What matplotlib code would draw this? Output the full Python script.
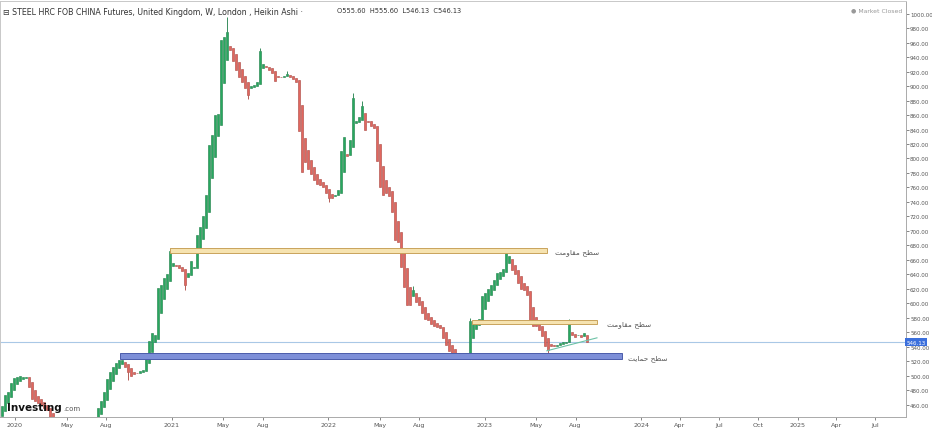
import numpy as np
import pandas as pd
import matplotlib
matplotlib.use('Agg')
import matplotlib.pyplot as plt
import matplotlib.dates as mdates
from matplotlib.patches import Rectangle
import matplotlib.transforms as mtransforms

#%% weekly Heikin Ashi closes (first week 2019-12-02)

ha_close = [458, 473, 478, 490, 497, 498, 499, 498, 498, 485,
            468, 465, 463, 460, 455, 452, 440, 436, 430, 425,
            420, 418, 420, 423, 426, 429, 431, 433, 435, 437,
            439, 442, 455, 465, 478, 495, 505, 512, 518, 522,
            522, 512, 505, 500, 503, 504, 506, 508, 529, 548,
            559, 556, 621, 625, 635, 640, 672, 655, 652, 649,
            645, 625, 642, 658, 650, 694, 706, 720, 749, 818,
            832, 860, 862, 963, 968, 975, 950, 935, 922, 913,
            905, 897, 888, 900, 902, 905, 948, 930, 926, 922,
            918, 907, 912, 913, 914, 917, 912, 910, 905, 838,
            782, 795, 785, 778, 770, 765, 763, 760, 752, 745,
            745, 750, 756, 811, 830, 803, 826, 883, 852, 857,
            873, 840, 851, 845, 842, 796, 760, 750, 752, 748,
            726, 687, 684, 650, 622, 597, 598, 618, 602, 598,
            586, 578, 577, 572, 568, 567, 566, 552, 542, 534,
            530, 527, 525, 524, 527, 531, 576, 576, 577, 578,
            610, 614, 620, 625, 632, 642, 643, 648, 669, 665,
            646, 640, 628, 620, 618, 612, 573, 568, 568, 563,
            555, 541, 536, 541, 541, 543, 545, 546, 547, 575,
            556, 553, 556, 553, 559, 546.13]
first_open = 445

# visible wicks (week index: price)
wick_hi = {56: 676, 75: 995, 86: 953, 95: 921, 117: 890, 120: 880,
           137: 624, 156: 580, 168: 673, 189: 578}
wick_lo = {42: 494, 61: 618, 82: 882, 109: 740, 182: 531}

last_price = 546.13

# drawn levels on the chart
res1 = [670, 676]
res2 = [572, 577]
sup = [523.5, 531.5]

tick_dates = ['2020-01-01', '2020-05-01', '2020-08-01', '2021-01-01', '2021-05-01',
              '2021-08-01', '2022-01-01', '2022-05-01', '2022-08-01', '2023-01-01',
              '2023-05-01', '2023-08-01', '2024-01-01', '2024-04-01', '2024-07-01',
              '2024-10-01', '2025-01-01', '2025-04-01', '2025-07-01']
tick_labels = ['2020', 'May', 'Aug', '2021', 'May', 'Aug', '2022', 'May', 'Aug',
               '2023', 'May', 'Aug', '2024', 'Apr', 'Jul', 'Oct', '2025', 'Apr', 'Jul']

#%% heikin ashi opens

ha_open = [first_open]
for k in range(1, len(ha_close)):
    ha_open.append((ha_open[-1] + ha_close[k - 1]) / 2)
ha_open = np.array(ha_open)
ha_close = np.array(ha_close, dtype=float)

dates = pd.date_range('2019-12-02', periods=len(ha_close), freq='W-MON')
week = pd.Timedelta(weeks=1)

#%%

fig = plt.figure(figsize=(9.32, 4.31), dpi=100)
ax = fig.add_axes([0.0, 0.0302, 0.972, 0.9652])

up = ha_close >= ha_open
green, green_e = '#27a85f', '#1a7c45'
red, red_e = '#e2665e', '#a8443d'

# wicks
for k, v in wick_hi.items():
    col = green_e if up[k] else red_e
    ax.vlines(dates[k], max(ha_open[k], ha_close[k]), v, color=col, linewidth=0.6, zorder=2)
for k, v in wick_lo.items():
    col = green_e if up[k] else red_e
    ax.vlines(dates[k], v, min(ha_open[k], ha_close[k]), color=col, linewidth=0.6, zorder=2)

body = ha_close - ha_open
body = np.where(np.abs(body) < 0.8, np.sign(body + 1e-9) * 0.8, body)
ax.bar(dates, body, bottom=ha_open, width=5.8,
       color=np.where(up, green, red), edgecolor=np.where(up, green_e, red_e),
       linewidth=0.4, zorder=3)

x0 = dates[0] - 0.73 * week
x1 = dates[0] + 301.3 * week
ax.set_xlim(x0, x1)
ax.set_ylim(443.0, 1017.5)

# zones
def zone(d_from, d_to, lev, fc, ec):
    a = mdates.date2num(dates[0] + d_from * week)
    b = mdates.date2num(dates[0] + d_to * week)
    ax.add_patch(Rectangle((a, lev[0]), b - a, lev[1] - lev[0], facecolor=fc,
                           edgecolor=ec, linewidth=0.7, zorder=4))

zone(56.0, 181.6, res1, '#f6e3b0', '#c9a35c')
zone(156.6, 198.3, res2, '#f6e3b0', '#c9a35c')
zone(39.3, 206.6, sup, '#7d8fd8', '#4b5cab')

# trendline
ax.plot([dates[0] + 181.6 * week, dates[0] + 198.3 * week], [534.4, 552.3],
        color='#6cc2a6', linewidth=0.8, zorder=5)

# last price line
ax.axhline(last_price, color='#a9c8e6', linewidth=0.8, zorder=1)

# persian labels (pre-shaped, visual order)
res_txt = '\uFE96\uFEE3\uFEED\uFE8E\uFED8\uFEE3 \uFEA2\uFEC4\uFEB3'
sup_txt = '\uFE96\uFBFE\uFE8E\uFEE4\uFEA3 \uFEA2\uFEC4\uFEB3'
ax.text(dates[0] + 184.3 * week, 671, res_txt, fontsize=5.3, color='#555555', va='center')
ax.text(dates[0] + 201.6 * week, 572, res_txt, fontsize=5.3, color='#555555', va='center')
ax.text(dates[0] + 208.6 * week, 525.5, sup_txt, fontsize=5.3, color='#555555', va='center')

# axes styling
ax.yaxis.tick_right()
ax.set_yticks(np.arange(460, 1001, 20))
ax.set_yticklabels(['%.2f' % v for v in np.arange(460, 1001, 20)])
ax.set_xticks([pd.Timestamp(d) for d in tick_dates])
ax.set_xticklabels(tick_labels)
ax.tick_params(axis='x', labelsize=4.6, colors='#555555', length=2, width=0.5, pad=1.5)
ax.tick_params(axis='y', labelsize=4.0, colors='#555555', length=2, width=0.5, pad=1.0)
for s in ax.spines.values():
    s.set_color('#c8c8c8')
    s.set_linewidth(0.7)
ax.spines['right'].set_color('#aaaaaa')
ax.spines['bottom'].set_color('#aaaaaa')

# price tag on the axis
trans = mtransforms.blended_transform_factory(ax.transAxes, ax.transData)
ax.text(1.001, last_price, '%.2f' % last_price, transform=trans, fontsize=4.0, color='white',
        va='center', ha='left', zorder=10,
        bbox=dict(boxstyle='square,pad=0.25', facecolor='#3b6fdc', edgecolor='none'))

# header
ax.text(0.003, 0.985, '\u229F STEEL HRC FOB CHINA Futures, United Kingdom, W, London , Heikin Ashi \u00b7',
        transform=ax.transAxes, fontsize=5.7, color='#333333', va='top', ha='left')
ax.text(0.372, 0.985, 'O555.60  H555.60  L546.13  C546.13',
        transform=ax.transAxes, fontsize=4.8, color='#333333', va='top', ha='left')
ax.text(0.996, 0.985, '\u25cf Market Closed', transform=ax.transAxes, fontsize=4.4,
        color='#999999', va='top', ha='right')

# logo
ax.text(0.008, 0.012, 'Investing', transform=ax.transAxes, fontsize=7.5, fontweight='bold',
        color='#111111', va='bottom', ha='left', zorder=10)
ax.text(0.070, 0.014, '.com', transform=ax.transAxes, fontsize=5,
        color='#555555', va='bottom', ha='left', zorder=10)

fig.savefig('out.png', dpi=100)
